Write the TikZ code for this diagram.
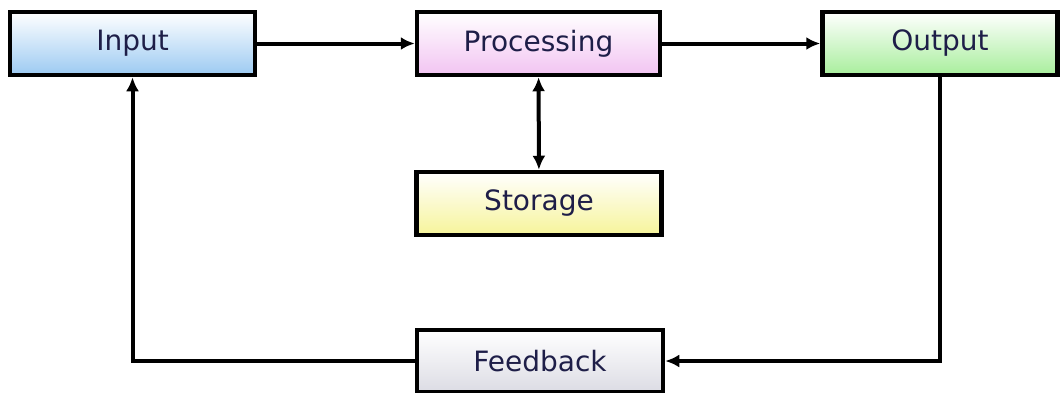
\documentclass[tikz,border=0pt]{standalone}
\usepackage{fontspec}
\setmainfont{DejaVu Sans}
\usetikzlibrary{arrows.meta}
\definecolor{txtnavy}{HTML}{1E1E48}
\definecolor{inblue}{HTML}{9CCAF2}
\definecolor{procpink}{HTML}{F2C4F2}
\definecolor{outgreen}{HTML}{A8EE9C}
\definecolor{storeyellow}{HTML}{F6F49A}
\definecolor{fbgray}{HTML}{DCDCE4}

\begin{document}
\begin{tikzpicture}[x=1pt,y=-1pt,
  block/.style={draw=black, line width=4.5pt, minimum height=63pt,
    inner sep=0pt, text=txtnavy, font=\fontsize{28}{32}\selectfont,
    top color=white},
  link/.style={black, line width=4pt, ->, >={Latex[length=14pt,width=13pt]}}]
  \useasboundingbox (0,0) rectangle (1060,392);
  % top row
  \node[block, minimum width=245pt, bottom color=inblue] (input) at (132.5,43.5) {Input};
  \node[block, minimum width=243pt, bottom color=procpink] (proc) at (538.5,43.5) {Processing};
  \node[block, minimum width=235pt, bottom color=outgreen] (output) at (940,43.5) {Output};
  % middle and bottom
  \node[block, minimum width=245pt, bottom color=storeyellow] (store) at (539,203.5) {Storage};
  \node[block, minimum width=246pt, minimum height=62pt, bottom color=fbgray] (feedback) at (540,361) {Feedback};
  \draw[link] (input) -- (proc);
  \draw[link] (proc) -- (output);
  \draw[link, <->] (proc) -- (store);
  \draw[link] (output.south) |- (feedback.east);
  \draw[link] (feedback.west) -| (input.south);
\end{tikzpicture}
\end{document}
